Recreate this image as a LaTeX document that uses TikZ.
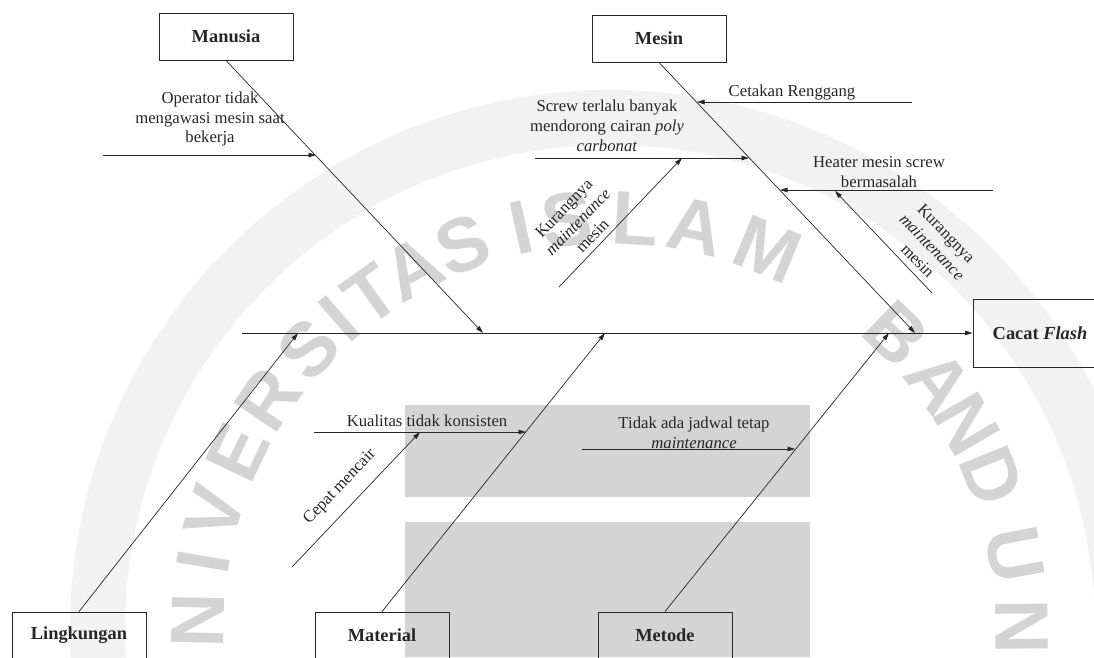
\documentclass[tikz,border=0pt]{standalone}
\usepackage{fontspec}
\setmainfont{Liberation Serif}
\newfontfamily\wmfont{Liberation Sans}
\usetikzlibrary{arrows.meta,calc}
\definecolor{ink}{HTML}{262626}
\definecolor{wmgray}{HTML}{D4D4D4}
\definecolor{wmband}{HTML}{F2F2F2}
\begin{document}
\begin{tikzpicture}[x=1pt,y=-1pt,
  bone/.style={draw=ink, line width=0.7pt},
  arr/.style={bone, -{Triangle[length=7.5pt,width=4.5pt]}},
  catbox/.style={draw=ink, line width=0.9pt, minimum width=134pt, minimum height=47pt, inner sep=0pt,
    text=ink, font=\fontsize{18.4}{20}\selectfont\bfseries},
  lbl/.style={font=\fontsize{16.7}{19.8}\selectfont, text=ink, align=center, inner sep=0pt},
  wm/.style={text=wmgray, font=\wmfont\fontsize{76}{76}\selectfont\bfseries, inner sep=0pt}
]
\useasboundingbox (0,0) rectangle (1094,657);
\clip (0,0) rectangle (1094,657);
% watermark
\fill[wmband, even odd rule] (610,630) circle[radius=540pt] (610,630) circle[radius=485pt];
\fill[wmgray] (405,405) rectangle (810,497);
\fill[wmgray] (405,522) rectangle (810,657);
\foreach \l/\a in {N/178.7, I/170.5, V/163.5, E/154.5, R/146, S/137, I/131, T/125.5, A/118.5, S/111,
  I/102.5, S/96, L/86.5, A/78, M/67.5, B/46, A/37, N/30, D/22, U/10.5, N/0.5}{
  \pgfmathsetmacro\rr{\a-90}
  \node[wm, rotate=\rr] at ($(610,630)+(\a:412pt)$) {\l};
}
% category boxes
\node[catbox] (manusia) at (226,36.5) {Manusia};
\node[catbox] (mesin) at (659,38.5) {Mesin};
\node[catbox] (lingkungan) at (79,635.5) {Lingkungan};
\node[catbox] (material) at (382,635.5) {Material};
\node[catbox] (metode) at (665,635.5) {Metode};
\node[catbox, minimum height=68pt] (cacat) at (1040,333) {Cacat \textit{Flash}};
% spine
\coordinate (s0) at (242,333);
\draw[arr] (s0) -- (cacat.west);
% bones
\coordinate (tMan) at (483,333);
\coordinate (tMes) at (915,333);
\coordinate (tLin) at (298,333);
\coordinate (tMat) at (605,333);
\coordinate (tMet) at (889,333);
\draw[arr] (manusia.south) -- (tMan);
\draw[arr] (mesin.south) -- (tMes);
\draw[arr] (lingkungan.north) -- (tLin);
\draw[arr] (material.north) -- (tMat);
\draw[arr] (metode.north) -- (tMet);
% Manusia causes
\coordinate (opA) at (103,155); \coordinate (opB) at (316,155);
\draw[arr] (opA) -- (opB);
\node[lbl] (opT) at (210,119) {Operator tidak\\mengawasi mesin saat\\bekerja};
% Mesin causes
\coordinate (ctA) at (912,102); \coordinate (ctB) at (697,102);
\draw[arr] (ctA) -- (ctB);
\node[lbl] (ctT) at (792,93) {Cetakan Renggang};
\coordinate (scA) at (535,158); \coordinate (scB) at (749,158);
\draw[arr] (scA) -- (scB);
\node[lbl] (scT) at (607,126) {Screw terlalu banyak\\mendorong cairan \textit{poly}\\\textit{carbonat}};
\coordinate (k1A) at (559,287); \coordinate (k1B) at (682,158);
\draw[arr] (k1A) -- (k1B);
\node[lbl, rotate=46] (k1T) at (578,222) {Kurangnya\\\textit{maintenance}\\mesin};
\coordinate (htA) at (993,190); \coordinate (htB) at (780,190);
\draw[arr] (htA) -- (htB);
\node[lbl] (htT) at (879,172) {Heater mesin screw\\bermasalah};
\coordinate (k2A) at (932,293); \coordinate (k2B) at (835,191);
\draw[arr] (k2A) -- (k2B);
\node[lbl, rotate=-46] (k2T) at (932,247) {Kurangnya\\\textit{maintenance}\\mesin};
% Material causes
\coordinate (kuA) at (314,432); \coordinate (kuB) at (526,432);
\draw[arr] (kuA) -- (kuB);
\node[lbl] (kuT) at (427,421) {Kualitas tidak konsisten};
\coordinate (cpA) at (292,567); \coordinate (cpB) at (420,432);
\draw[arr] (cpA) -- (cpB);
\node[lbl, rotate=46.5] (cpT) at (340,487) {Cepat mencair};
% Metode causes
\coordinate (tdA) at (582,449); \coordinate (tdB) at (795,449);
\draw[arr] (tdA) -- (tdB);
\node[lbl] (tdT) at (694,433) {Tidak ada jadwal tetap\\\textit{maintenance}};
\end{tikzpicture}
\end{document}
